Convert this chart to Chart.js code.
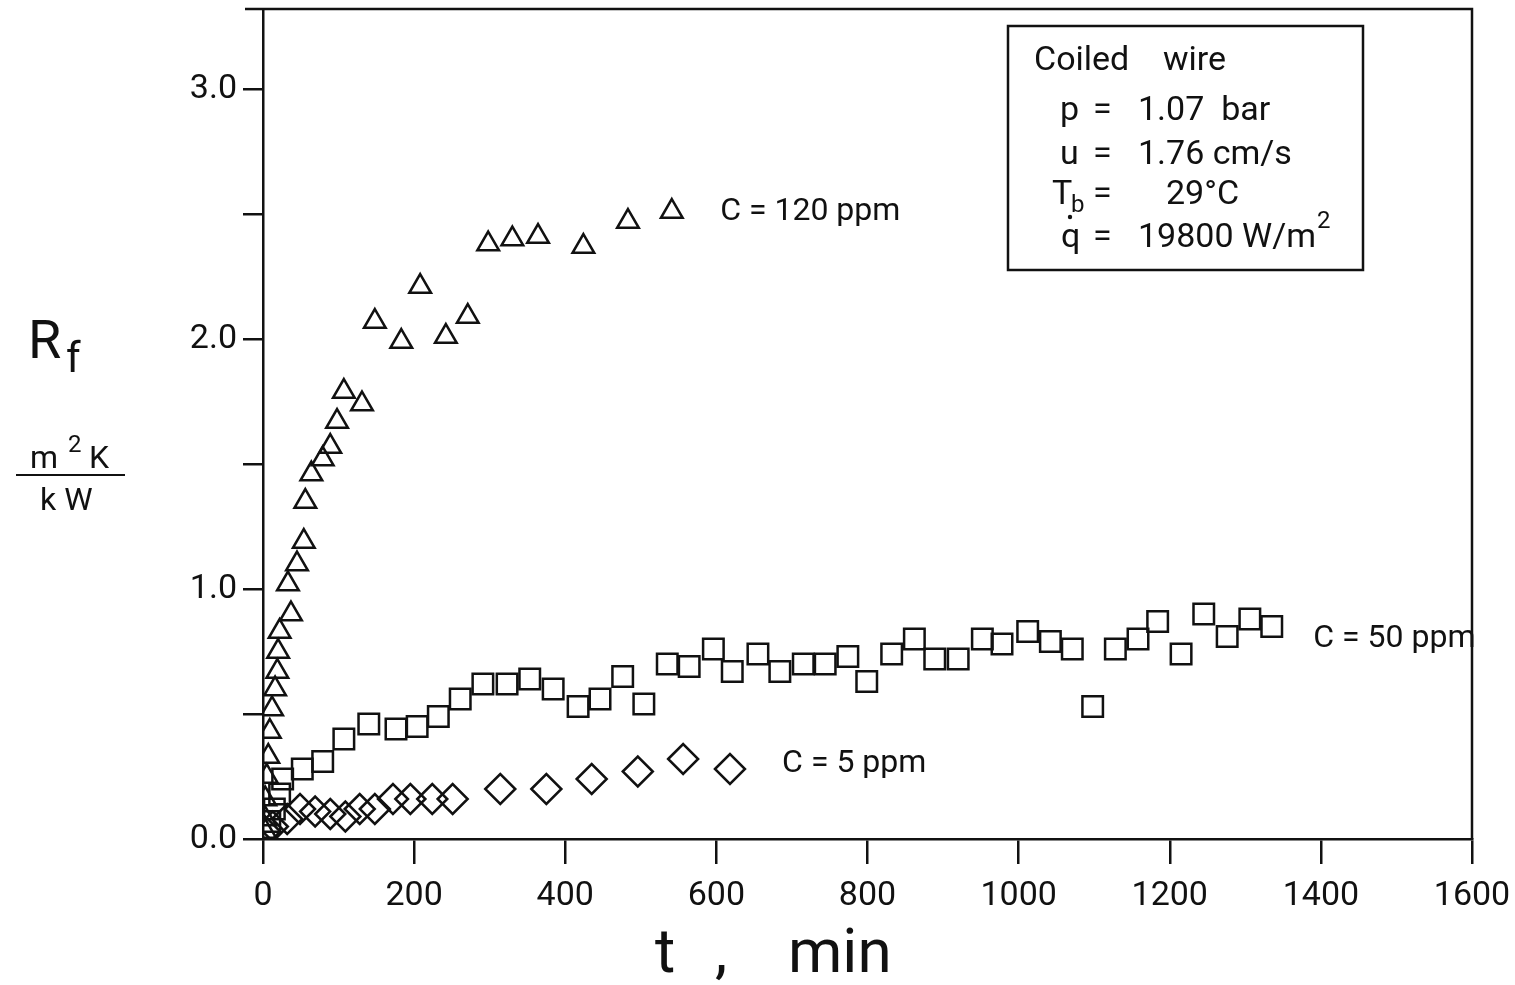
<!DOCTYPE html>
<html>
<head>
<meta charset="utf-8">
<script src="https://cdn.jsdelivr.net/npm/chart.js@4/dist/chart.umd.min.js"></script>
<style>
  html, body { margin: 0; padding: 0; background: #fff; }
  #wrap { width: 1515px; height: 985px; }
</style>
</head>
<body>
<div id="wrap"><canvas id="c" width="1515" height="985"></canvas></div>
<script>
// C = 120 ppm (triangles)
const t120 = [3, 3, 3, 5, 7, 9, 12, 16, 19, 20, 22, 37, 33, 45, 54, 56, 64, 79, 89, 98, 107, 131, 148, 183, 208, 242, 271, 298, 330, 364, 424, 483, 541];
const r120 = [0.03, 0.08, 0.16, 0.25, 0.33, 0.43, 0.52, 0.60, 0.67, 0.75, 0.83, 0.90, 1.02, 1.10, 1.19, 1.35, 1.46, 1.52, 1.57, 1.67, 1.79, 1.74, 2.07, 1.99, 2.21, 2.01, 2.09, 2.38, 2.40, 2.41, 2.37, 2.47, 2.51];

// C = 50 ppm (squares)
const t50 = [9, 15, 22, 26, 52, 79, 107, 140, 176, 204, 232, 261, 291, 323, 353, 384, 417, 446, 476, 504, 535, 564, 596, 621, 655, 684, 715, 744, 774, 799, 832, 862, 889, 920, 952, 978, 1012, 1042, 1071, 1098, 1128, 1158, 1184, 1215, 1245, 1276, 1306, 1335];
const r50 = [0.07, 0.12, 0.18, 0.24, 0.28, 0.31, 0.40, 0.46, 0.44, 0.45, 0.49, 0.56, 0.62, 0.62, 0.64, 0.60, 0.53, 0.56, 0.65, 0.54, 0.70, 0.69, 0.76, 0.67, 0.74, 0.67, 0.70, 0.70, 0.73, 0.63, 0.74, 0.80, 0.72, 0.72, 0.80, 0.78, 0.83, 0.79, 0.76, 0.53, 0.76, 0.80, 0.87, 0.74, 0.90, 0.81, 0.88, 0.85];

// C = 5 ppm (diamonds)
const t5 = [3, 13, 32, 49, 69, 89, 109, 128, 148, 172, 195, 224, 251, 314, 375, 435, 496, 556, 618];
const r5 = [0.03, 0.05, 0.08, 0.12, 0.11, 0.10, 0.09, 0.12, 0.12, 0.16, 0.16, 0.16, 0.16, 0.20, 0.20, 0.24, 0.27, 0.32, 0.28];

const xTicks = [0, 200, 400, 600, 800, 1000, 1200, 1400, 1600];
const yTicks = [0, 0.5, 1.0, 1.5, 2.0, 2.5, 3.0];

// curve labels: [text, t, Rf]
const seriesLabels = [
  ['C = 120 ppm', 605, 2.51],
  ['C = 50 ppm', 1390, 0.80],
  ['C = 5 ppm', 687, 0.30],
];

const FONT = 'Roboto, "DejaVu Sans", sans-serif';
const INK = '#111';

function pts(xs, ys) { return xs.map((x, i) => ({ x: x, y: ys[i] })); }

function noPad(s) {
  s.paddingLeft = 0; s.paddingRight = 0; s.paddingTop = 0; s.paddingBottom = 0;
}

const decor = {
  id: 'decor',
  afterDraw(chart) {
    const ctx = chart.ctx;
    const a = chart.chartArea;
    const xs = chart.scales.x, ys = chart.scales.y;
    ctx.save();
    ctx.strokeStyle = INK;
    ctx.fillStyle = INK;
    ctx.lineWidth = 2.5;
    // top and right frame
    ctx.beginPath();
    ctx.moveTo(a.left - 18, a.top);
    ctx.lineTo(a.right, a.top);
    ctx.lineTo(a.right, a.bottom);
    ctx.stroke();

    ctx.textBaseline = 'middle';
    ctx.textAlign = 'left';
    ctx.font = '32px ' + FONT;
    seriesLabels.forEach(([txt, t, r]) => {
      ctx.fillText(txt, xs.getPixelForValue(t), ys.getPixelForValue(r));
    });

    // parameter box
    ctx.strokeRect(1008, 26, 355, 244);
    ctx.textBaseline = 'alphabetic';
    ctx.font = '34px ' + FONT;
    ctx.fillText('Coiled', 1034, 70);
    ctx.fillText('wire', 1163, 70);
    ctx.fillText('p', 1060, 120);
    ctx.fillText('=', 1093, 120);
    ctx.fillText('1.07  bar', 1138, 120);
    ctx.fillText('u', 1060, 164);
    ctx.fillText('=', 1093, 164);
    ctx.fillText('1.76 cm/s', 1138, 164);
    ctx.fillText('T', 1052, 204);
    ctx.fillText('=', 1093, 204);
    ctx.fillText('29°C', 1166, 204);
    ctx.fillText('q', 1061, 247);
    ctx.fillText('=', 1093, 247);
    const qTxt = '19800 W/m';
    ctx.fillText(qTxt, 1138, 247);
    const qW = ctx.measureText(qTxt).width;
    ctx.font = '24px ' + FONT;
    ctx.fillText('b', 1071, 212);
    ctx.fillText('2', 1138 + qW + 1, 228);
    ctx.beginPath();
    ctx.arc(1070, 217, 2.2, 0, Math.PI * 2);
    ctx.fill();

    // y axis title
    ctx.font = '54px ' + FONT;
    ctx.fillText('R', 28, 358);
    ctx.font = '42px ' + FONT;
    ctx.fillText('f', 66, 372);
    ctx.font = '32px ' + FONT;
    ctx.fillText('m', 30, 468);
    ctx.fillText('K', 89, 468);
    ctx.fillText('k W', 40, 510);
    ctx.font = '24px ' + FONT;
    ctx.fillText('2', 68, 452);
    ctx.lineWidth = 2;
    ctx.beginPath();
    ctx.moveTo(16, 475);
    ctx.lineTo(125, 475);
    ctx.stroke();

    // x axis title
    ctx.font = '62px ' + FONT;
    ctx.fillText('t', 655, 972);
    ctx.fillText(',', 715, 972);
    ctx.fillText('min', 788, 972);
    ctx.restore();
  }
};

new Chart(document.getElementById('c'), {
  type: 'scatter',
  data: {
    datasets: [
      { label: 'C = 120 ppm', data: pts(t120, r120), pointStyle: 'triangle', pointRadius: 12.5, borderColor: INK, backgroundColor: 'rgba(0,0,0,0)', borderWidth: 2.5 },
      { label: 'C = 50 ppm', data: pts(t50, r50), pointStyle: 'rect', pointRadius: 14.5, borderColor: INK, backgroundColor: 'rgba(0,0,0,0)', borderWidth: 2.5 },
      { label: 'C = 5 ppm', data: pts(t5, r5), pointStyle: 'rectRot', pointRadius: 15, borderColor: INK, backgroundColor: 'rgba(0,0,0,0)', borderWidth: 2.5 },
    ]
  },
  options: {
    responsive: false,
    animation: false,
    layout: { autoPadding: false, padding: { left: 0, top: 9, right: 43, bottom: 0 } },
    plugins: { legend: { display: false }, tooltip: { enabled: false } },
    scales: {
      x: {
        type: 'linear', min: 0, max: 1600,
        afterBuildTicks: s => { s.ticks = xTicks.map(v => ({ value: v })); },
        afterFit: s => { s.height = 146; noPad(s); },
        border: { display: true, color: INK, width: 2.5 },
        grid: { display: true, drawOnChartArea: false, drawTicks: true, tickLength: 25, color: INK, lineWidth: 2.5 },
        ticks: { color: INK, font: { family: FONT, size: 34 }, padding: 12, maxRotation: 0, callback: v => String(v) },
      },
      y: {
        type: 'linear', min: 0, max: 3.32,
        afterBuildTicks: s => { s.ticks = yTicks.map(v => ({ value: v })); },
        afterFit: s => { s.width = 263; noPad(s); },
        border: { display: true, color: INK, width: 2.5 },
        grid: { display: true, drawOnChartArea: false, drawTicks: true, tickLength: 20, color: INK, lineWidth: 2.5 },
        ticks: { color: INK, font: { family: FONT, size: 34 }, padding: 6, callback: v => Number.isInteger(v) ? v.toFixed(1) : '' },
      }
    }
  },
  plugins: [decor]
});
</script>
</body>
</html>
